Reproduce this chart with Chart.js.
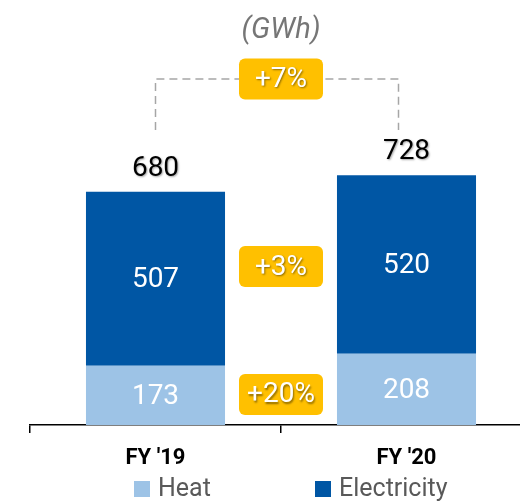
<!DOCTYPE html>
<html>
<head>
<meta charset="utf-8">
<script src="https://cdn.jsdelivr.net/npm/chart.js@4.4.1/dist/chart.umd.min.js"></script>
<style>
  html, body { margin: 0; padding: 0; background: #fff; overflow: hidden; }
  /* the plot runs a little past the right edge of the window, as in the original slide */
  #wrap { width: 532px; height: 502px; }
</style>
</head>
<body>
<div id="wrap"><canvas id="energyChart"></canvas></div>
<script>
// Energy sold, GWh
const categories = ["FY '19", "FY '20"];
const heat = [173, 208];
const electricity = [507, 520];
const totals = heat.map((h, i) => h + electricity[i]);

// growth badges, with the level (GWh on the y scale) they sit at
const badgeLabels = ['+20%', '+3%', '+7%'];
const badgeLevels = [89, 462, 1009];
const bracketFoot = 860;

const HEAT_COLOR = '#9dc3e6';
const ELEC_COLOR = '#0056a4';

const annotate = {
  id: 'annotate',
  afterDatasetsDraw(chart) {
    const { ctx, scales: { x, y } } = chart;
    ctx.save();
    ctx.textAlign = 'center';
    ctx.textBaseline = 'middle';

    // values inside the segments
    ctx.font = '28px Roboto';
    ctx.fillStyle = '#fff';
    chart.data.datasets.forEach((ds, di) => {
      chart.getDatasetMeta(di).data.forEach((bar, i) => {
        ctx.fillText(ds.data[i], bar.x, (bar.y + bar.base) / 2 + 1.5);
      });
    });

    // totals above the bars
    const topBars = chart.getDatasetMeta(1).data;
    ctx.save();
    ctx.fillStyle = '#000';
    ctx.shadowColor = 'rgba(0,0,0,0.35)';
    ctx.shadowOffsetX = 1;
    ctx.shadowOffsetY = 1;
    ctx.shadowBlur = 2;
    totals.forEach((t, i) => ctx.fillText(t, topBars[i].x, topBars[i].y - 23));
    ctx.restore();

    // dashed bracket between the totals
    const yTop = y.getPixelForValue(badgeLevels[2]);
    const yFoot = y.getPixelForValue(bracketFoot);
    ctx.save();
    ctx.strokeStyle = '#a6a6a6';
    ctx.lineWidth = 1.5;
    ctx.setLineDash([8, 5]);
    ctx.beginPath();
    ctx.moveTo(topBars[0].x, yFoot);
    ctx.lineTo(topBars[0].x, yTop);
    ctx.lineTo(topBars[1].x - 8, yTop);
    ctx.lineTo(topBars[1].x - 8, yFoot);
    ctx.stroke();
    ctx.restore();

    // yellow badges
    const cx = x.getPixelForValue(0.5);
    badgeLabels.forEach((lbl, i) => {
      const cy = y.getPixelForValue(badgeLevels[i]);
      const w = 84, h = 41;
      ctx.fillStyle = '#ffc000';
      ctx.beginPath();
      ctx.roundRect(cx - w / 2, cy - h / 2, w, h, 6);
      ctx.fill();
      ctx.save();
      ctx.fillStyle = '#fff';
      ctx.shadowColor = 'rgba(0,0,0,0.45)';
      ctx.shadowOffsetX = 1;
      ctx.shadowOffsetY = 1.5;
      ctx.shadowBlur = 2;
      ctx.font = '28px Roboto';
      ctx.fillText(lbl, cx, cy + 1);
      ctx.restore();
    });
    ctx.restore();
  },
  afterDraw(chart) {
    // legend row under the axis labels
    const { ctx } = chart;
    const items = [
      { text: 'Heat', color: HEAT_COLOR, x: 134 },
      { text: 'Electricity', color: ELEC_COLOR, x: 315 }
    ];
    ctx.save();
    ctx.font = '25px Roboto';
    ctx.textBaseline = 'middle';
    ctx.textAlign = 'left';
    items.forEach(it => {
      ctx.fillStyle = it.color;
      ctx.fillRect(it.x, 481, 16, 16);
      ctx.fillStyle = '#595959';
      ctx.fillText(it.text, it.x + 24, 490);
    });
    ctx.restore();
  }
};

new Chart(document.getElementById('energyChart'), {
  type: 'bar',
  data: {
    labels: categories,
    datasets: [
      { label: 'Heat', data: heat, backgroundColor: HEAT_COLOR },
      { label: 'Electricity', data: electricity, backgroundColor: ELEC_COLOR }
    ]
  },
  options: {
    responsive: true,
    maintainAspectRatio: false,
    animation: false,
    datasets: { bar: { categoryPercentage: 1, barPercentage: 0.554 } },
    layout: { padding: { left: 30, right: 0, top: 0, bottom: 18.6 } },
    plugins: {
      legend: { display: false },
      tooltip: { enabled: false },
      title: {
        display: true,
        text: '(GWh)',
        color: '#767676',
        font: { family: 'Roboto', size: 29, style: 'italic', weight: 'normal' },
        padding: { top: 13.6, bottom: 0 }
      }
    },
    scales: {
      x: {
        stacked: true,
        border: { display: true, color: '#000', width: 1.5 },
        grid: { display: true, drawOnChartArea: false, drawTicks: true, tickLength: 8, color: '#000', lineWidth: 1.5, offset: true },
        ticks: { color: '#000', padding: 12, font: { family: 'Roboto', size: 22, weight: 'bold' } }
      },
      y: {
        stacked: true,
        display: false,
        min: 0,
        max: 1098
      }
    }
  },
  plugins: [annotate]
});
</script>
</body>
</html>
